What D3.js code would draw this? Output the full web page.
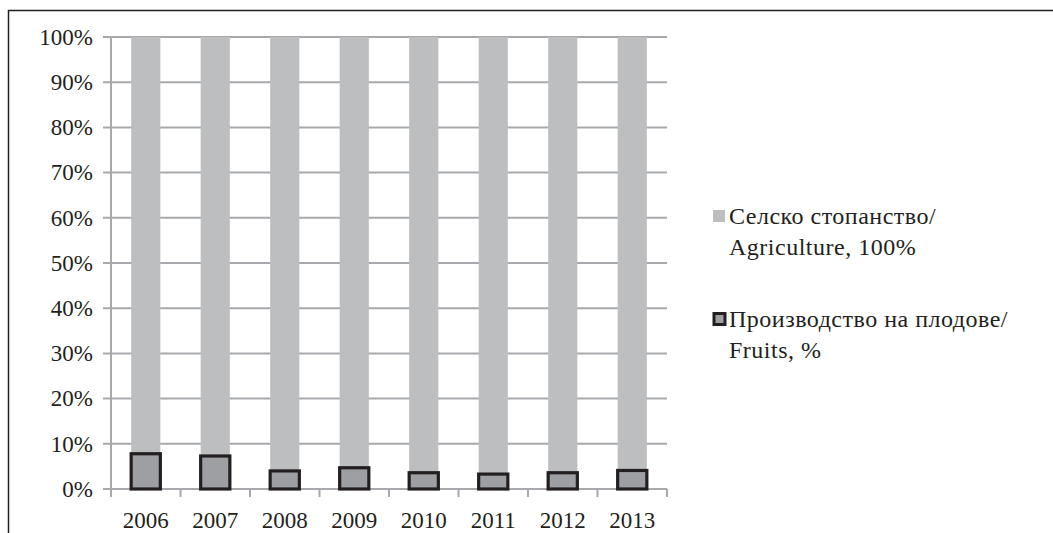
<!DOCTYPE html>
<html><head><meta charset="utf-8">
<script src="https://cdn.jsdelivr.net/npm/d3@7"></script>
<style>body{margin:0;background:#fff}svg{display:block}text{font-family:"Liberation Serif",serif}</style>
</head><body>
<svg id="c" width="1053" height="533"></svg>
<script>
const years = ["2006","2007","2008","2009","2010","2011","2012","2013"];
const agriculture = [100,100,100,100,100,100,100,100];
const fruits = [7.8,7.3,4.0,4.7,3.6,3.3,3.6,4.1];
const yTicks = [0,10,20,30,40,50,60,70,80,90,100];
const legendLabels = [["Селско стопанство/","Agriculture, 100%"],["Производство на плодове/","Fruits, %"]];

(function(){
const svg = d3.select("#c");
const fs = 23;
const pL = 111, pR = 667, pT = 37, pB = 489;
const x = d3.scaleBand().domain(years).range([pL, pR]).paddingInner(0.58).paddingOuter(0.29);
const y = d3.scaleLinear().domain([0,100]).range([pB, pT]);
const grid = "#a7a9ac", dark = "#231f20";

svg.append("line").attr("x1",8).attr("x2",1053).attr("y1",10.5).attr("y2",10.5).attr("stroke",dark).attr("stroke-width",1.5);
svg.append("line").attr("x1",8.5).attr("x2",8.5).attr("y1",10).attr("y2",533).attr("stroke",dark).attr("stroke-width",1.5);

svg.append("g").selectAll("line").data(yTicks).join("line")
  .attr("x1", pL-8).attr("x2", pR).attr("y1", d=>y(d)).attr("y2", d=>y(d))
  .attr("stroke", grid).attr("stroke-width", 2);
svg.append("g").selectAll("text").data(yTicks).join("text")
  .attr("x", 93).attr("y", d=>y(d)).attr("dy","0.34em").attr("text-anchor","end")
  .attr("font-size", fs).attr("fill", dark)
  .text(d=>d+"%");

svg.append("line").attr("x1",pL).attr("x2",pL).attr("y1",pT).attr("y2",pB).attr("stroke",grid).attr("stroke-width",2);
const bounds = d3.range(years.length+1).map(i=> pL + i*(pR-pL)/years.length);
svg.append("g").selectAll("line").data(bounds).join("line")
  .attr("x1", d=>d).attr("x2", d=>d).attr("y1", pB).attr("y2", pB+8)
  .attr("stroke", grid).attr("stroke-width", 2);

svg.append("g").selectAll("rect").data(years).join("rect")
  .attr("x", d=>x(d)).attr("width", x.bandwidth())
  .attr("y", (d,i)=>y(agriculture[i])).attr("height", (d,i)=>y(0)-y(agriculture[i]))
  .attr("fill", "#bcbec0");
svg.append("g").selectAll("rect").data(years).join("rect")
  .attr("x", d=>x(d)).attr("width", x.bandwidth())
  .attr("y", (d,i)=>y(fruits[i])).attr("height", (d,i)=>y(0)-y(fruits[i]))
  .attr("fill", "#9d9fa2").attr("stroke", dark).attr("stroke-width", 3.2);

svg.append("g").selectAll("text").data(years).join("text")
  .attr("x", d=>x(d)+x.bandwidth()/2).attr("y", 528).attr("text-anchor","middle")
  .attr("font-size", fs).attr("fill", dark)
  .text(d=>d);

const lg = svg.append("g");
const ly = [216, 319];
lg.append("rect").attr("x",713).attr("y",ly[0]-6).attr("width",12).attr("height",12).attr("fill","#bcbec0");
lg.append("rect").attr("x",714).attr("y",ly[1]-5.5).attr("width",11).attr("height",11).attr("fill","#9d9fa2").attr("stroke",dark).attr("stroke-width",3);
legendLabels.forEach((lines,i)=>{
  lines.forEach((t,j)=>{
    lg.append("text").attr("x",729).attr("y",ly[i]+j*31).attr("dy","0.34em")
      .attr("font-size",24).attr("letter-spacing",0.5).attr("fill",dark).text(t);
  });
});
})();
</script>
</body></html>
